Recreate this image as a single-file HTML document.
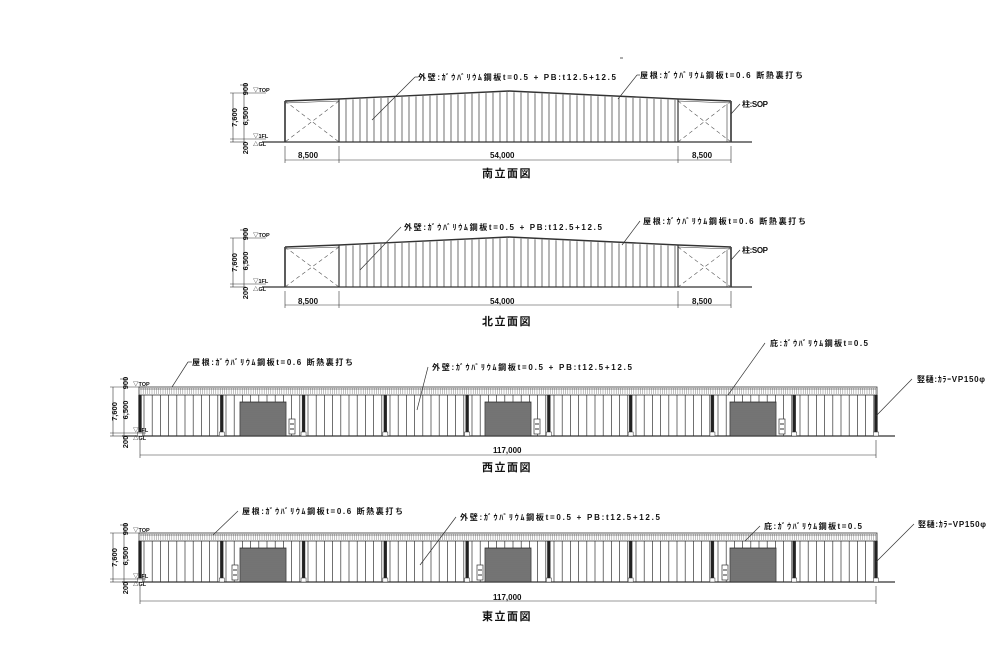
<!DOCTYPE html>
<html><head><meta charset="utf-8"><style>
html,body{margin:0;padding:0;background:#fff;}
svg{display:block;}
text{font-family:"Liberation Sans","Noto Sans CJK JP",sans-serif;fill:#111;}
.l{font-size:8px;font-weight:bold;}
.t{font-size:11px;font-weight:bold;letter-spacing:1.5px;}
</style></head><body>
<svg id="s" width="1003" height="649" viewBox="0 0 1003 649" xmlns="http://www.w3.org/2000/svg">
<g stroke="#333" fill="none" stroke-width="0.8" id="g"></g>
<!-- South labels -->
<text class="l" x="418" y="80" textLength="198" lengthAdjust="spacing">外壁:ｶﾞｳﾊﾞﾘｳﾑ鋼板t=0.5 + PB:t12.5+12.5</text>
<text class="l" x="640" y="78" textLength="163" lengthAdjust="spacing">屋根:ｶﾞｳﾊﾞﾘｳﾑ鋼板t=0.6 断熱裏打ち</text>
<text class="l" x="742" y="107" textLength="26" lengthAdjust="spacing">柱:SOP</text>
<text class="l" x="298" y="158">8,500</text>
<text class="l" x="490" y="158">54,000</text>
<text class="l" x="692" y="158">8,500</text>
<text class="t" x="482" y="177">南立面図</text>
<!-- North labels -->
<text class="l" x="404" y="230" textLength="198" lengthAdjust="spacing">外壁:ｶﾞｳﾊﾞﾘｳﾑ鋼板t=0.5 + PB:t12.5+12.5</text>
<text class="l" x="643" y="224" textLength="163" lengthAdjust="spacing">屋根:ｶﾞｳﾊﾞﾘｳﾑ鋼板t=0.6 断熱裏打ち</text>
<text class="l" x="742" y="253" textLength="26" lengthAdjust="spacing">柱:SOP</text>
<text class="l" x="298" y="304">8,500</text>
<text class="l" x="490" y="304">54,000</text>
<text class="l" x="692" y="304">8,500</text>
<text class="t" x="482" y="325">北立面図</text>
<!-- West labels -->
<text class="l" x="192" y="365" textLength="161" lengthAdjust="spacing">屋根:ｶﾞｳﾊﾞﾘｳﾑ鋼板t=0.6 断熱裏打ち</text>
<text class="l" x="432" y="370" textLength="200" lengthAdjust="spacing">外壁:ｶﾞｳﾊﾞﾘｳﾑ鋼板t=0.5 + PB:t12.5+12.5</text>
<text class="l" x="770" y="346" textLength="98" lengthAdjust="spacing">庇:ｶﾞｳﾊﾞﾘｳﾑ鋼板t=0.5</text>
<text class="l" x="917" y="382" textLength="68" lengthAdjust="spacing">竪樋:ｶﾗｰVP150φ</text>
<text class="l" x="493" y="453">117,000</text>
<text class="t" x="482" y="471">西立面図</text>
<!-- East labels -->
<text class="l" x="242" y="514" textLength="161" lengthAdjust="spacing">屋根:ｶﾞｳﾊﾞﾘｳﾑ鋼板t=0.6 断熱裏打ち</text>
<text class="l" x="460" y="520" textLength="200" lengthAdjust="spacing">外壁:ｶﾞｳﾊﾞﾘｳﾑ鋼板t=0.5 + PB:t12.5+12.5</text>
<text class="l" x="764" y="529" textLength="98" lengthAdjust="spacing">庇:ｶﾞｳﾊﾞﾘｳﾑ鋼板t=0.5</text>
<text class="l" x="918" y="527" textLength="68" lengthAdjust="spacing">竪樋:ｶﾗｰVP150φ</text>
<text class="l" x="493" y="600">117,000</text>
<text class="t" x="482" y="620">東立面図</text>
<g id="dt"></g>
</svg>
<script>
var g=document.getElementById('g'),dt=document.getElementById('dt');
var NS="http://www.w3.org/2000/svg";
function L(x1,y1,x2,y2,w,c,da){var e=document.createElementNS(NS,'line');e.setAttribute('x1',x1);e.setAttribute('y1',y1);e.setAttribute('x2',x2);e.setAttribute('y2',y2);if(w)e.setAttribute('stroke-width',w);if(c)e.setAttribute('stroke',c);if(da)e.setAttribute('stroke-dasharray',da);g.appendChild(e);}
function R(x,y,w,h,f,sw){var e=document.createElementNS(NS,'rect');e.setAttribute('x',x);e.setAttribute('y',y);e.setAttribute('width',w);e.setAttribute('height',h);if(f)e.setAttribute('fill',f);if(sw)e.setAttribute('stroke-width',sw);g.appendChild(e);}
function T(x,y,s,rot,size){var e=document.createElementNS(NS,'text');e.setAttribute('x',x);e.setAttribute('y',y);e.setAttribute('font-size',size||7);e.setAttribute('font-weight','bold');if(rot){e.setAttribute('transform','rotate(-90 '+x+' '+y+')');e.setAttribute('text-anchor','middle');}e.textContent=s;dt.appendChild(e);}
function dims(x,gy){
 var top=gy-49,fl=gy-3;
 L(x+8,top-8,x+8,gy+6,0.6);L(x-3,top,x-3,gy,0.6);
 L(x-6,top,x+30,top,0.6);L(x-6,fl,x+30,fl,0.6);L(x-6,gy,x+10,gy,0.6);L(x+4,top-8,x+12,top-8,0.6);
 T(x+12,top-8+4,"900",1,7.5);T(x+12,(top+fl)/2,"6,500",1,7.5);T(x+12,gy+6,"200",1,7.5);T(x+1,(top+gy)/2,"7,600",1,7.5);
 T(x+17,top-1,"▽TOP",0,5.5);T(x+17,fl-1,"▽1FL",0,5.5);T(x+17,gy+4,"△GL",0,5.5);
}
function gable(gy,oy){
 var yb=gy,a=285,b=339,c=678,d=731;
 L(262,yb,752,yb,1.2);
 L(a,101+oy,a,yb,1.6);L(a,101+oy,b,99+oy,1.4);L(a,103+oy,b,101+oy,0.6);
 L(a,101+oy,b,yb,0.6,'#555','4 3');L(b,101+oy,a,yb,0.6,'#555','4 3');
 L(c,99+oy,d,101+oy,1.4);L(c,101+oy,d,103+oy,0.6);L(d,101+oy,d,yb,1.6);L(d-4,104+oy,d-4,yb,0.6);
 L(c,101+oy,d,yb,0.6,'#555','4 3');L(d,101+oy,c,yb,0.6,'#555','4 3');
 L(b,99+oy,509,91+oy,1.4);L(509,91+oy,c,99+oy,1.4);L(b,99+oy,b,yb,1.2);L(c,99+oy,c,yb,1.2);
 for(var x=b+7;x<c;x+=7){var ty=x<509?99-(x-b)/(509-b)*8:91+(x-509)/(c-509)*8;L(x,ty+oy+1,x,yb,0.7);}
 var dy=gy+18;L(a,dy,d,dy,0.6);[a,b,c,d].forEach(function(x){L(x,gy+4,x,dy+3,0.6);});
 dims(236,gy);
}
gable(142,0);gable(287,146);
L(415,77,372,120,0.7);L(415,77,418,77,0.7);L(637,75,618,99,0.7);L(637,75,640,75,0.7);L(740,104,731,114,0.7);
L(401,227,360,270,0.7);L(640,221,622,245,0.7);L(740,250,731,260,0.7);
function longE(gy,east){
 var x0=140,x1=876,rt=gy-49,rb=gy-41;
 L(122,gy,895,gy,1.2);
 R(x0-1,rt,x1-x0+2,rb-rt,'#fff',0.8);
 for(var x=x0+1;x<x1;x+=2.2)L(x,rt+1,x,rb-1,0.4,'#666');
 L(x0,rt+2,x1,rt+2,0.5);
 var bw=(x1-x0)/9;
 for(var x=x0+4;x<x1;x+=8.2)L(x,rb,x,gy,0.7);
 for(var i=0;i<=9;i++){var cx=x0+i*bw;R(cx-1.5,rb,3,gy-rb,'#222',0.3);R(cx-2.5,gy-4,5,4,'#fff',0.5);}
 [240,485,730].forEach(function(dx){R(dx,gy-34,46,34,'#6a6a6a',0.8);for(var y=gy-32;y<gy;y+=2)L(dx,y,dx+46,y,0.4,'#999');
  var bx=east?dx-8:dx+49;R(bx,gy-17,6,15,'#fff',0.7);L(bx+1,gy-12,bx+5,gy-12,1);L(bx+1,gy-7,bx+5,gy-7,1);});
 var dy=gy+19;L(x0,dy,x1,dy,0.6);L(x0,gy+4,x0,dy+3,0.6);L(x1,gy+4,x1,dy+3,0.6);
 dims(116,gy);
}
longE(436,false);longE(582,true);
L(188,362,172,387,0.7);L(188,362,192,362,0.7);L(428,367,417,410,0.7);L(765,343,728,395,0.7);L(912,379,876,416,0.7);
L(238,511,213,535,0.7);L(456,517,420,565,0.7);L(760,526,745,541,0.7);L(914,524,876,562,0.7);
L(620,58,623,58,0.8);
</script>
</body></html>
